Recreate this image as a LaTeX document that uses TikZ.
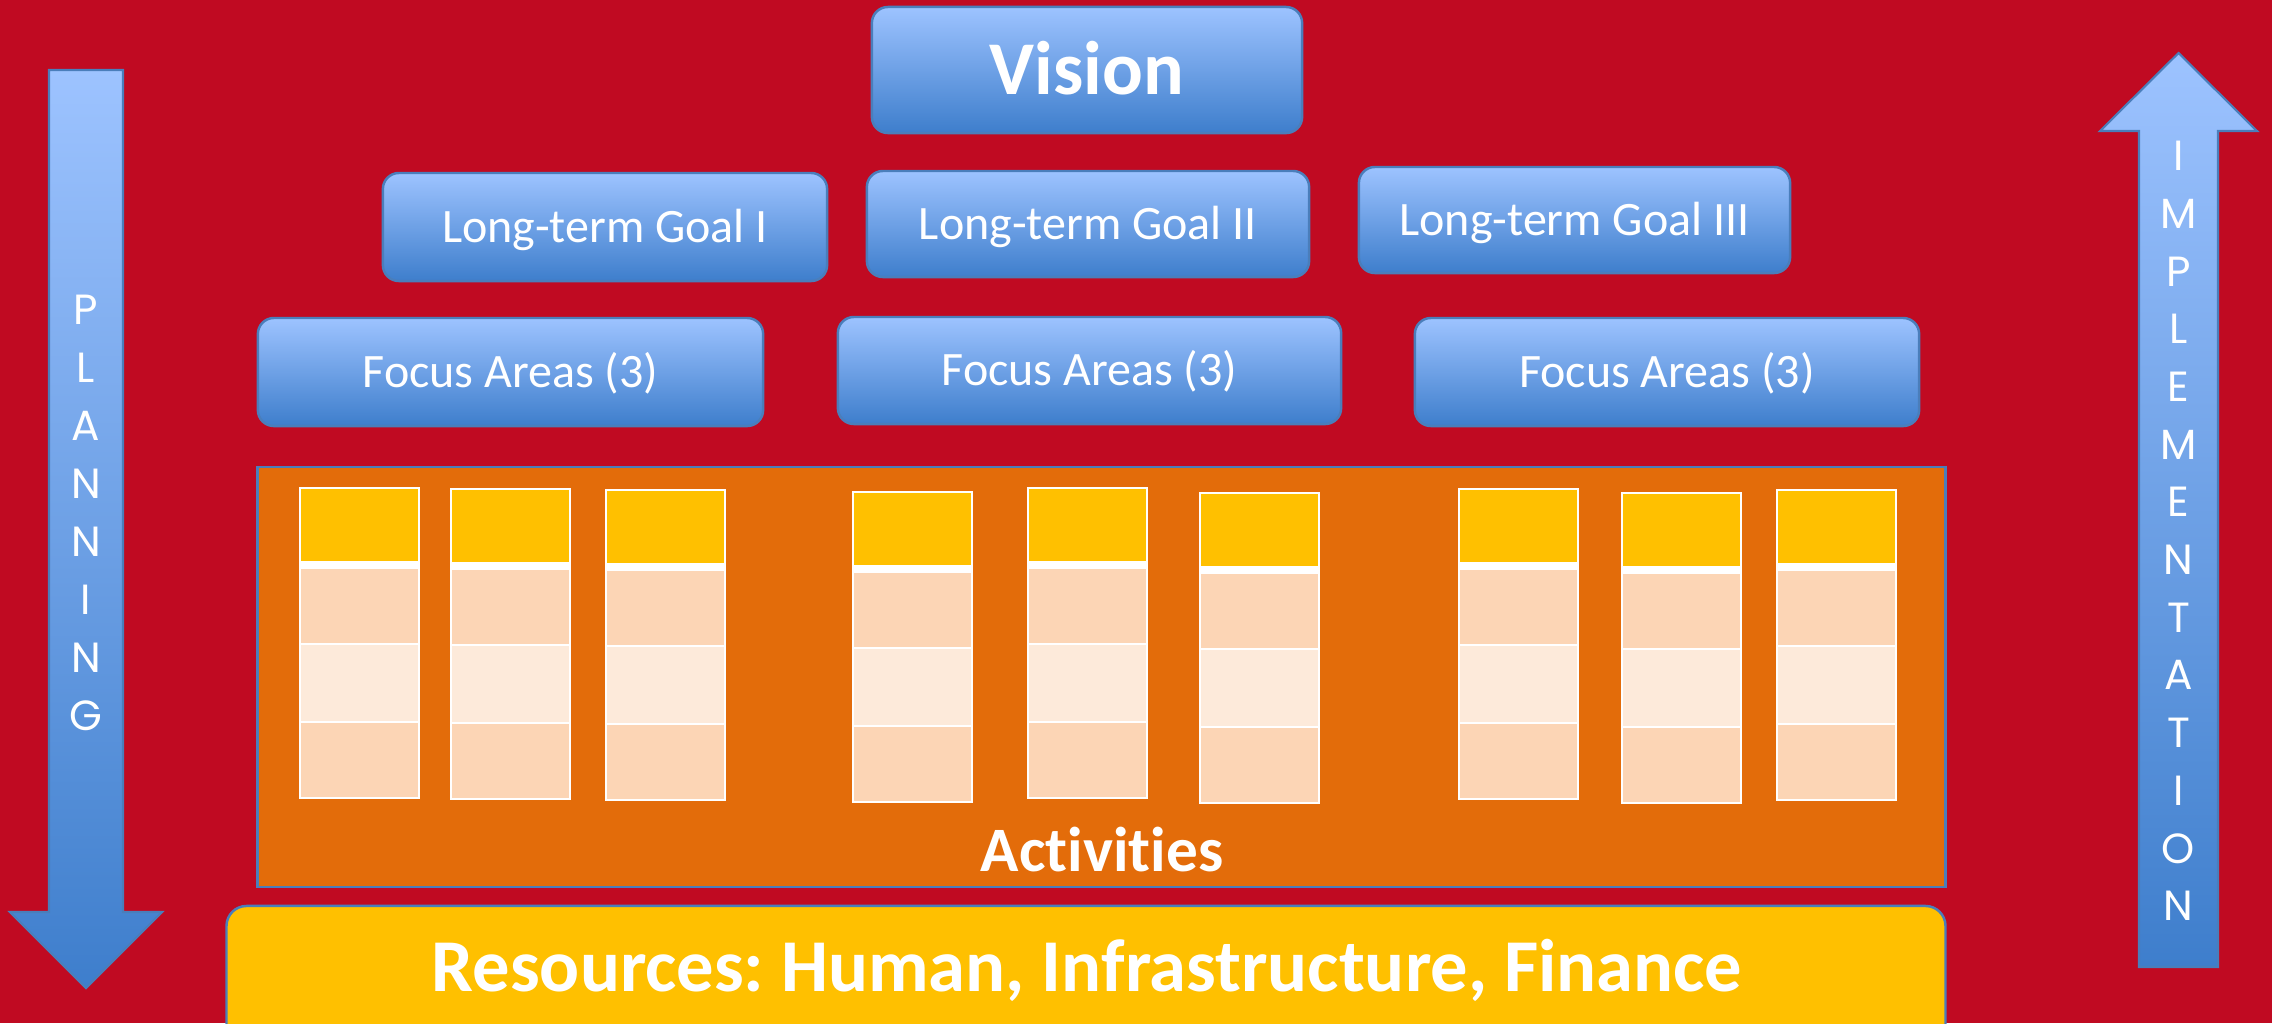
\documentclass[tikz,border=0pt]{standalone}
\usepackage{fontspec}
\setmainfont{Carlito}[Ligatures=NoCommon]
\newfontfamily\arrowfont{Poppins}
\frenchspacing

\definecolor{bgred}{RGB}{192,10,34}
\definecolor{actorange}{RGB}{227,108,10}
\definecolor{gold}{RGB}{255,192,0}
\definecolor{peach}{RGB}{252,213,181}
\definecolor{cream}{RGB}{253,234,218}
\definecolor{bluetop}{RGB}{157,195,255}
\definecolor{bluebot}{RGB}{62,126,204}
\definecolor{blueedge}{RGB}{74,126,187}

\tikzset{
  bluebox/.style={draw=blueedge, line width=0.7pt, rounded corners=0.16cm,
    top color=bluetop, bottom color=bluebot, text=white, inner sep=0pt},
  goalbox/.style={bluebox, font=\fontsize{13.65}{16}\selectfont, text height=8.65pt, text depth=0pt},
  arrowband/.style={draw=blueedge, line width=0.6pt, top color=bluetop, bottom color=bluebot},
  letter/.style={text=white, inner sep=0pt, font=\arrowfont\fontsize{12}{12}\selectfont,
    text height=8.3pt, text depth=0pt}}

\begin{document}
\begin{tikzpicture}[x=0.01cm, y=-0.01cm]
    \useasboundingbox (0,0) rectangle (2272,1023);
    \fill[bgred] (0,0) rectangle (2272,1023);

    \node[bluebox, font=\bfseries\fontsize{21.6}{24}\selectfont, text height=13.65pt, text depth=0pt,
      minimum width=4.30cm, minimum height=1.26cm] (vision) at (1087,70) {Vision};

    \node[goalbox, minimum width=4.44cm, minimum height=1.08cm] (goal1) at (605,227) {Long-term Goal I};
    \node[goalbox, minimum width=4.42cm, minimum height=1.06cm] (goal2) at (1088,224) {Long-term Goal II};
    \node[goalbox, minimum width=4.31cm, minimum height=1.06cm] (goal3) at (1574.5,220) {Long-term Goal III};

    \node[goalbox, minimum width=5.05cm, minimum height=1.08cm] (focus1) at (510.5,372) {Focus Areas (3)};
    \node[goalbox, minimum width=5.03cm, minimum height=1.07cm] (focus2) at (1089.5,370.5) {Focus Areas (3)};
    \node[goalbox, minimum width=5.04cm, minimum height=1.08cm] (focus3) at (1667,372) {Focus Areas (3)};

    \node[draw=blueedge, line width=0.6pt, fill=actorange, inner sep=0pt,
      minimum width=16.87cm, minimum height=4.20cm] (act) at (1101.5,677) {};
    \foreach \cx/\ct in {299/487, 450/488, 605/489, 852/491, 1027/487, 1199/492, 1458/488, 1621/492, 1776/489}{
      \fill[white] (\cx,\ct) rectangle ++(121,312);
      \fill[gold] (\cx+2,\ct+2) rectangle (\cx+119,\ct+74);
      \fill[peach] (\cx+2,\ct+82) rectangle (\cx+119,\ct+156);
      \fill[cream] (\cx+2,\ct+158) rectangle (\cx+119,\ct+234);
      \fill[peach] (\cx+2,\ct+236) rectangle (\cx+119,\ct+310);
    }
    \node[anchor=base, text=white, inner sep=0pt, font=\bfseries\fontsize{18}{20}\selectfont] (acttitle) at (1102,871) {Activities};

    \node[draw=blueedge, line width=0.7pt, fill=gold, rounded corners=0.2cm, inner sep=0pt,
      minimum width=17.18cm, minimum height=1.60cm] (res) at (1086,986) {};
    \node[anchor=base, text=white, inner sep=0pt, font=\bfseries\fontsize{21.2}{24}\selectfont] (restitle) at (1087,991)
      {Resources: Human, Infrastructure, Finance};

    \path[arrowband] (49,70) -- (123,70) -- (123,912) -- (162,912) -- (86,988) -- (10,912) -- (49,912) -- cycle;
    \foreach \ch [count=\i] in {P,L,A,N,N,I,N,G}
      \node[letter] (plan\i) at (86,{252+58*\i}) {\ch};

    \path[arrowband] (2139,967) -- (2139,131) -- (2100,131) -- (2178.5,53) -- (2257,131) -- (2218,131) -- (2218,967) -- cycle;
    \foreach \ch [count=\i] in {I,M,P,L,E,M,E,N,T,A,T,I,O,N}
      \node[letter] (impl\i) at (2178.5,{98.3+57.7*\i}) {\ch};
\end{tikzpicture}
\end{document}
